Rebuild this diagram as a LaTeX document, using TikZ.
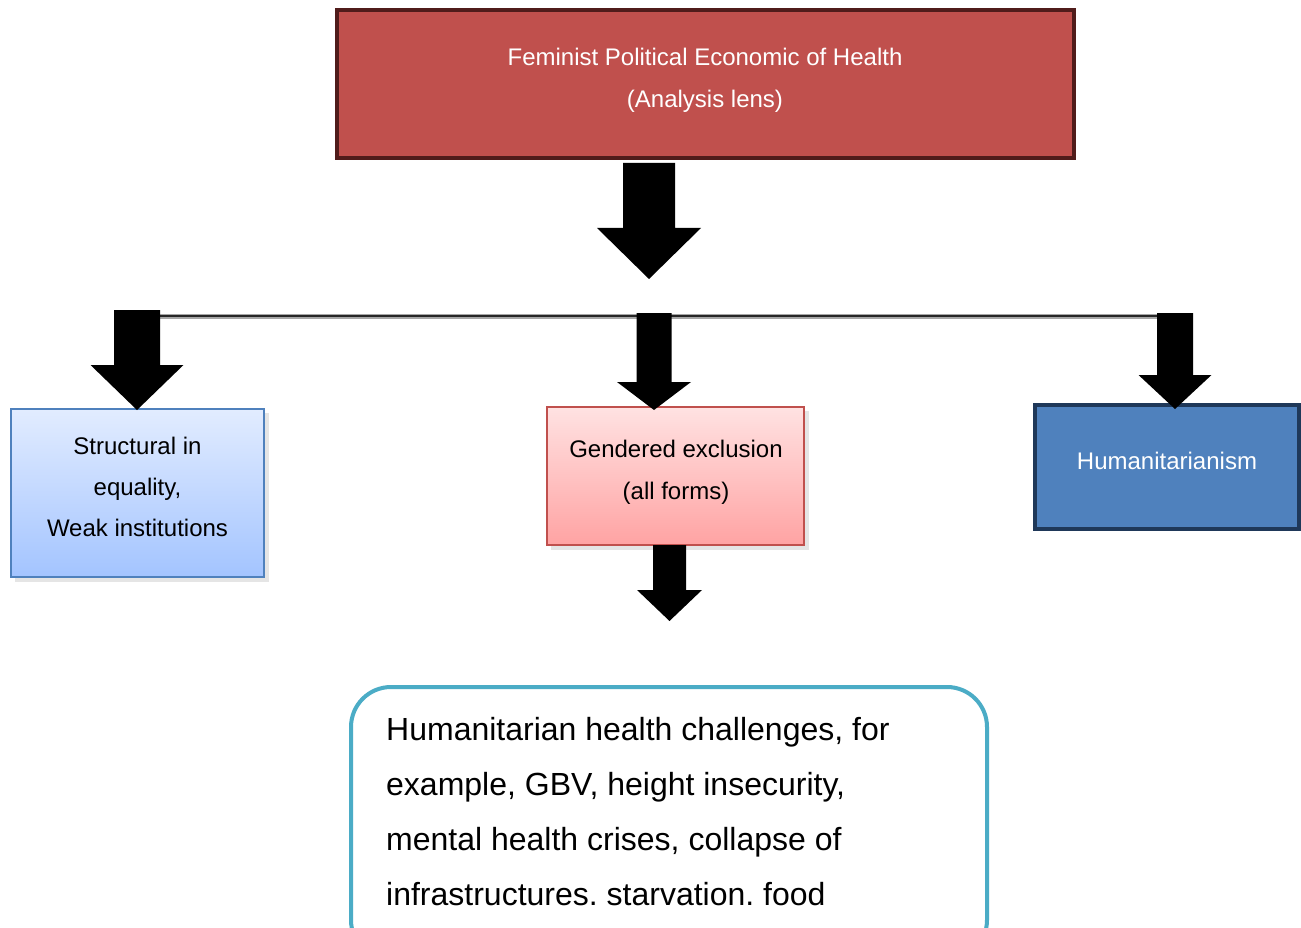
\documentclass[tikz,border=0pt]{standalone}
\usepackage{fontspec}
\setmainfont{Liberation Sans}
\frenchspacing
\newcommand{\bigdown}[6]{\fill[black] (#1-#3/2,#2) -- (#1+#3/2,#2) -- (#1+#3/2,#4) -- (#1+#5/2,#4) -- (#1,#6) -- (#1-#5/2,#4) -- (#1-#3/2,#4) -- cycle;}
\tikzset{
  lbl/.style={font=\fontsize{24}{41}\selectfont, align=center, inner sep=0pt},
  btxt/.style={font=\fontsize{32}{55}\selectfont, anchor=base west, inner sep=0pt},
}
\begin{document}
\frenchspacing
\begin{tikzpicture}[x=1pt,y=-1pt]
\useasboundingbox (0,0) rectangle (1301,928);
\clip (0,0) rectangle (1301,928);
\fill[white] (0,0) rectangle (1301,928);
% top box
\node[draw={rgb,255:red,80;green,28;blue,27}, line width=4pt, fill={rgb,255:red,192;green,80;blue,77},
  minimum width=737pt, minimum height=148pt, inner sep=0pt] (top) at (705.5,84) {};
\node[lbl, text=white, font=\fontsize{24}{42}\selectfont] (toptxt) at (705,80) {Feminist Political Economic of Health\\(Analysis lens)};
% horizontal line
\draw[line width=5.5pt, black!35] (140,316.5) -- (1178,316.5);
\draw[line width=2.5pt, black!85] (140,316) -- (1178,316);
% left box
\fill[black, opacity=0.10] (15,413) rectangle (269,582);
\node[draw={rgb,255:red,79;green,129;blue,189}, line width=1.5pt,
  top color={rgb,255:red,226;green,236;blue,255}, bottom color={rgb,255:red,163;green,196;blue,255},
  minimum width=253pt, minimum height=168pt, inner sep=0pt] (left) at (137.5,493) {};
\node[lbl] (lefttxt) at (137.5,487) {Structural in\\equality,\\Weak institutions};
% middle box
\fill[black, opacity=0.10] (551,411) rectangle (809,550);
\node[draw={rgb,255:red,192;green,80;blue,77}, line width=1.5pt,
  top color={rgb,255:red,255;green,226;blue,226}, bottom color={rgb,255:red,255;green,163;blue,163},
  minimum width=257pt, minimum height=138pt, inner sep=0pt] (mid) at (675.5,476) {};
\node[lbl, font=\fontsize{24}{42}\selectfont] (midtxt) at (676,472) {Gendered exclusion\\(all forms)};
% right box
\node[draw={rgb,255:red,31;green,56;blue,89}, line width=4pt, fill={rgb,255:red,79;green,129;blue,189},
  minimum width=264pt, minimum height=124pt, inner sep=0pt] (right) at (1167,467) {};
\node[lbl, text=white] (righttxt) at (1167,461) {Humanitarianism};
% bottom box
\draw[draw={rgb,255:red,75;green,172;blue,198}, line width=4pt, rounded corners=40pt, fill=white]
  (351,687) rectangle (987,960);
\node[btxt] (bottom) at (386,740) {Humanitarian health challenges, for};
\node[btxt] (bottom2) at (386,795) {example, GBV, height insecurity,};
\node[btxt] (bottom3) at (386,850) {mental health crises, collapse of};
\node[btxt] (bottom4) at (386,905) {infrastructures.\ starvation.\ food};
% arrows
\bigdown{649}{163}{52}{228}{104}{279}
\bigdown{137}{310}{46}{365}{93}{410}
\bigdown{654}{313}{35}{382}{74}{410}
\bigdown{669.5}{545}{33}{590}{65}{621}
\bigdown{1175}{313}{36}{375}{73}{409}
\end{tikzpicture}
\end{document}
